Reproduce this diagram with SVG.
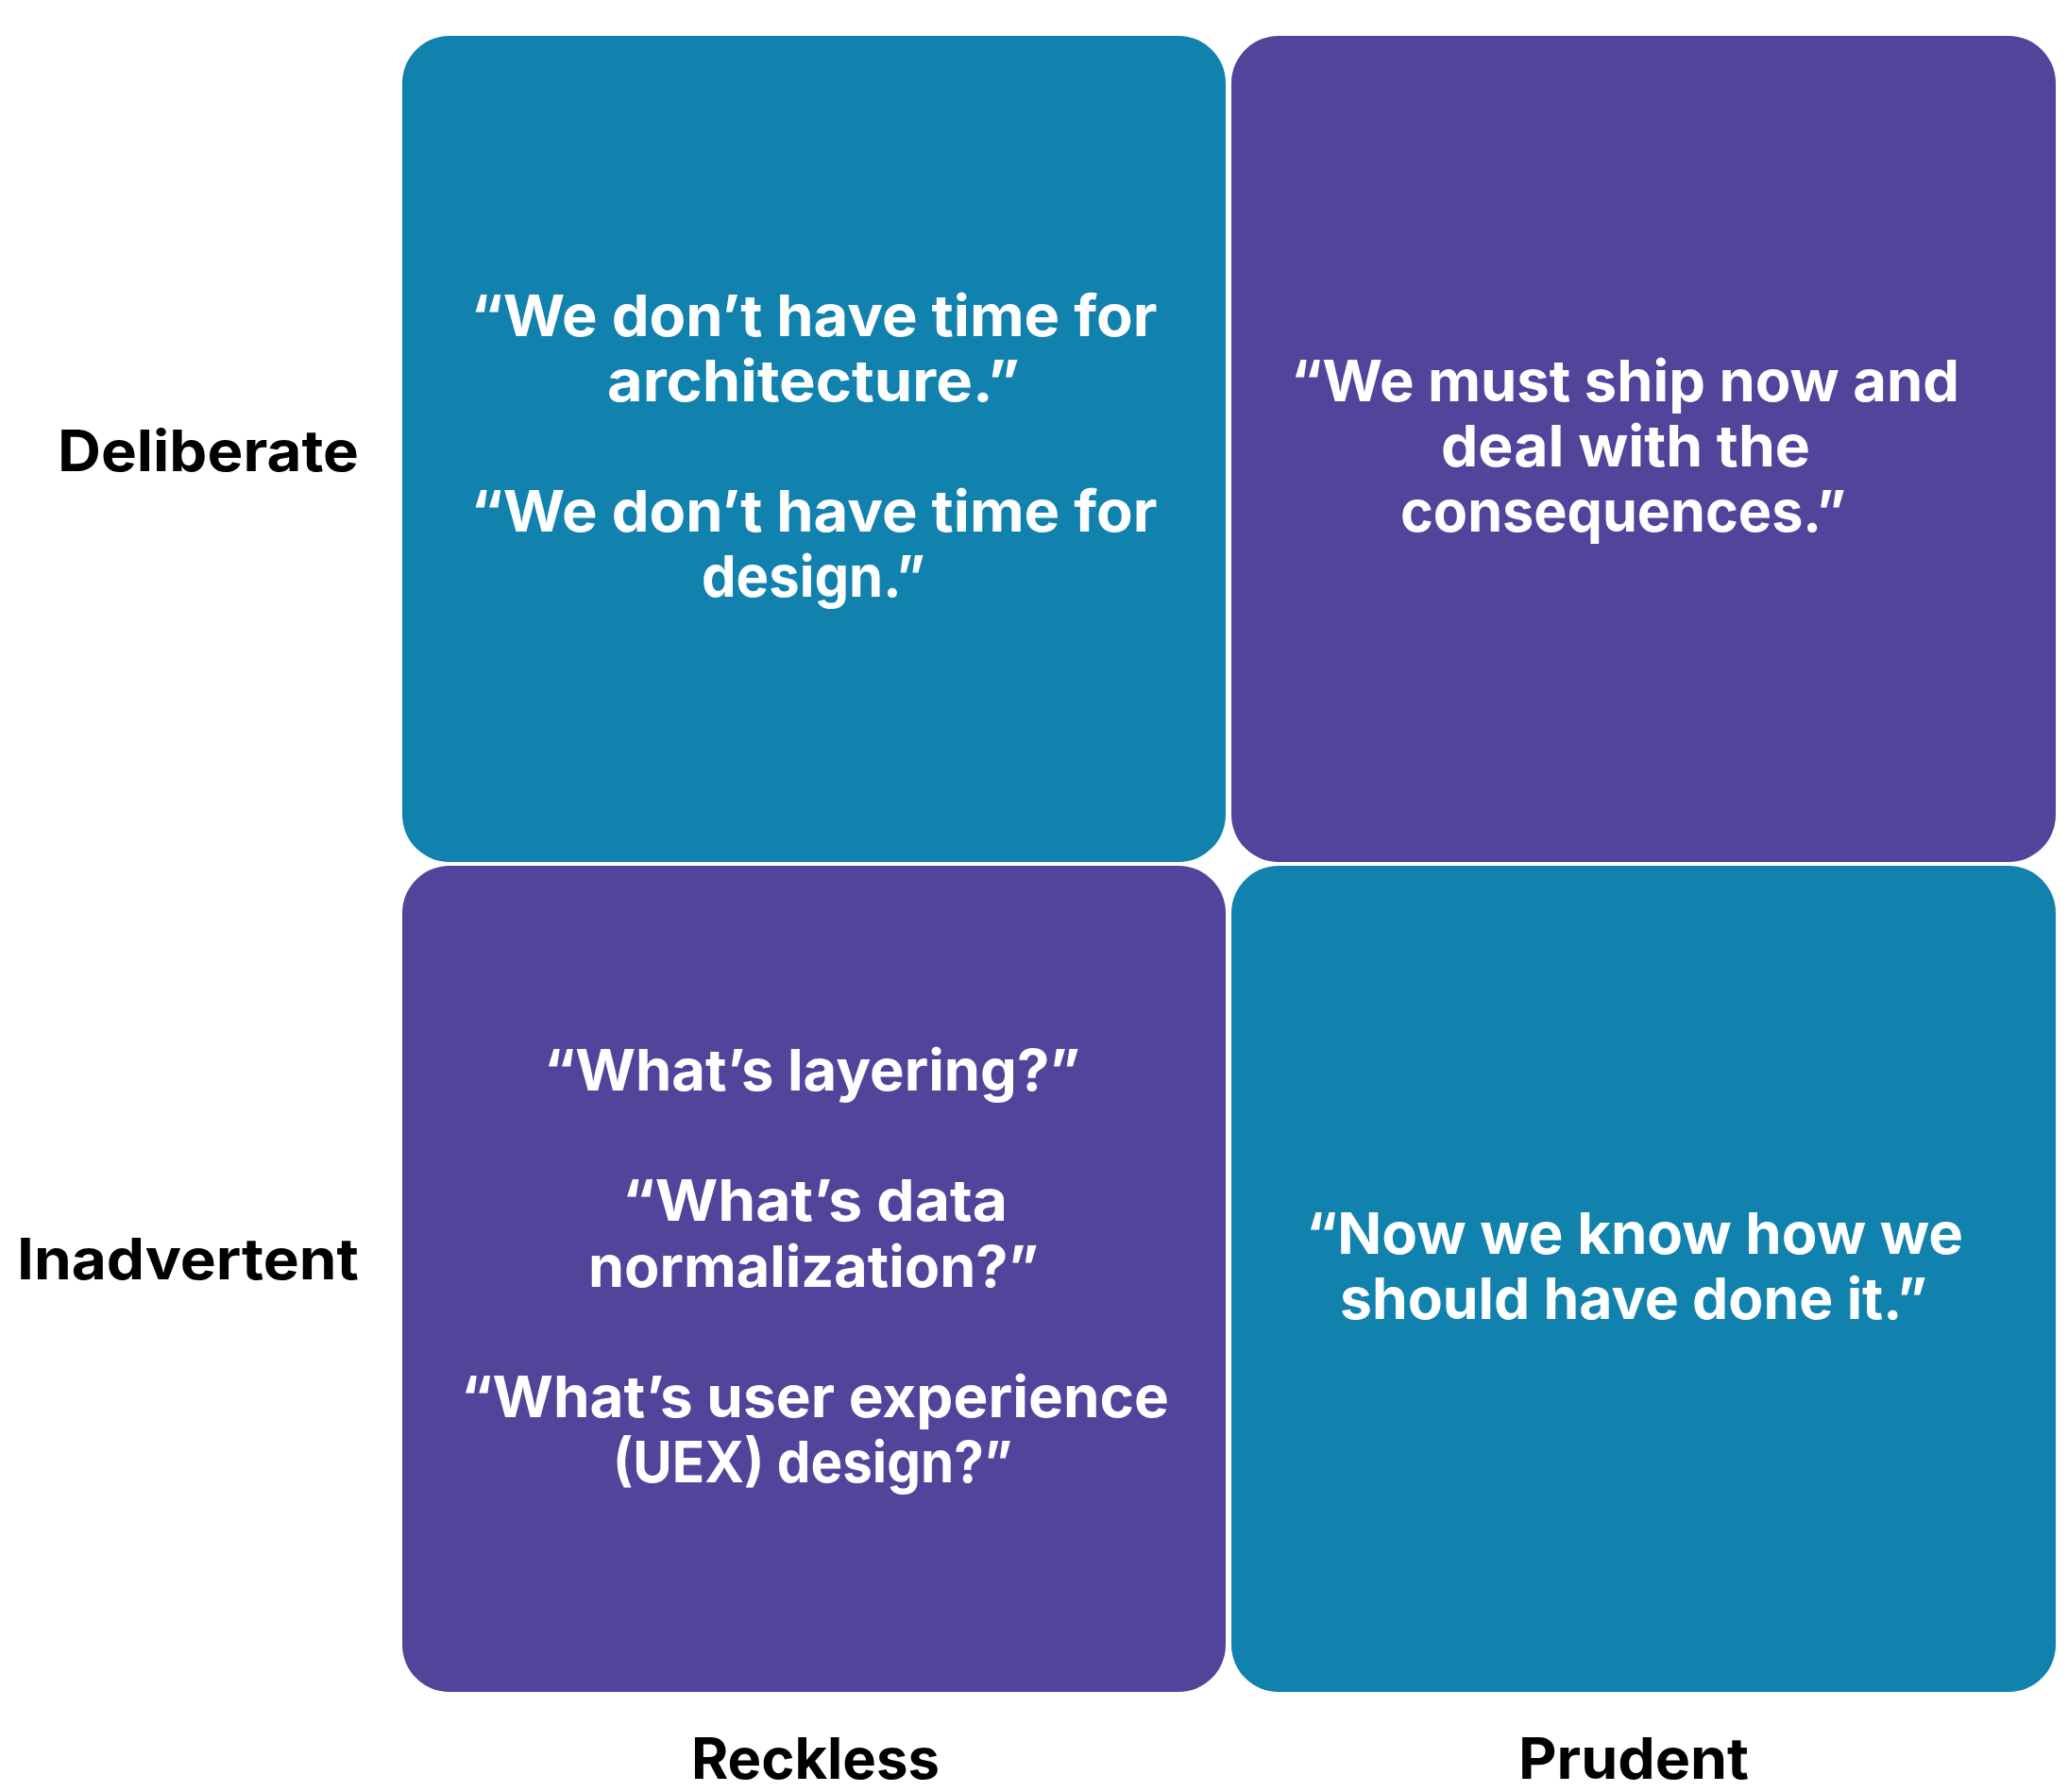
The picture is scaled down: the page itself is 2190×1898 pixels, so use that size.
<svg xmlns="http://www.w3.org/2000/svg" width="2190" height="1898" viewBox="0 0 2190 1898">
<style>
.teal{fill:#1182AD}
.purple{fill:#51449B}
.q{font-family:Inter,"Noto Sans","Liberation Sans",sans-serif;font-weight:700;font-size:61px;fill:#FFFFFF;text-anchor:middle}
.lbl{font-family:Inter,"Noto Sans","Liberation Sans",sans-serif;font-weight:700;font-size:60px;fill:#000000}
</style>
<rect width="2190" height="1898" fill="#FFFFFF"/>
<g id="connectors"></g>
<g id="node-deliberate-reckless">
<rect class="teal" x="426" y="38" width="872" height="875" rx="50" ry="50"/>
<text class="q" x="862" y="356" textLength="727" lengthAdjust="spacingAndGlyphs">“We don’t have time for</text>
<text class="q" x="861.5" y="425" textLength="437" lengthAdjust="spacingAndGlyphs">architecture.”</text>
<text class="q" x="862" y="563" textLength="727" lengthAdjust="spacingAndGlyphs">“We don’t have time for</text>
<text class="q" x="861.5" y="632" textLength="237" lengthAdjust="spacingAndGlyphs">design.”</text>
</g>
<g id="node-deliberate-prudent">
<rect class="purple" x="1304" y="38" width="873" height="875" rx="50" ry="50"/>
<text class="q" x="1721" y="425" textLength="708" lengthAdjust="spacingAndGlyphs">“We must ship now and</text>
<text class="q" x="1721.5" y="494" textLength="391" lengthAdjust="spacingAndGlyphs">deal with the</text>
<text class="q" x="1719" y="563" textLength="472" lengthAdjust="spacingAndGlyphs">consequences.”</text>
</g>
<g id="node-inadvertent-reckless">
<rect class="purple" x="426" y="917" width="872" height="875" rx="50" ry="50"/>
<text class="q" x="860" y="1155" textLength="568" lengthAdjust="spacingAndGlyphs">“What’s layering?”</text>
<text class="q" x="863" y="1293" textLength="408" lengthAdjust="spacingAndGlyphs">“What’s data</text>
<text class="q" x="861.5" y="1363" textLength="477" lengthAdjust="spacingAndGlyphs">normalization?”</text>
<text class="q" x="863" y="1501" textLength="750" lengthAdjust="spacingAndGlyphs">“What’s user experience</text>
<text class="q" x="860.5" y="1570" textLength="423" lengthAdjust="spacingAndGlyphs">(UEX) design?”</text>
</g>
<g id="node-inadvertent-prudent">
<rect class="teal" x="1304" y="917" width="873" height="875" rx="50" ry="50"/>
<text class="q" x="1731" y="1328" textLength="696" lengthAdjust="spacingAndGlyphs">“Now we know how we</text>
<text class="q" x="1730" y="1397" textLength="622" lengthAdjust="spacingAndGlyphs">should have done it.”</text>
</g>
<g id="label-deliberate">
<text class="lbl" x="380" y="499" text-anchor="end" textLength="319" lengthAdjust="spacingAndGlyphs">Deliberate</text>
</g>
<g id="label-inadvertent">
<text class="lbl" x="380" y="1355" text-anchor="end" textLength="362" lengthAdjust="spacingAndGlyphs">Inadvertent</text>
</g>
<g id="label-reckless">
<text class="lbl" x="863.5" y="1884" text-anchor="middle" textLength="263" lengthAdjust="spacingAndGlyphs">Reckless</text>
</g>
<g id="label-prudent">
<text class="lbl" x="1730" y="1884" text-anchor="middle" textLength="244" lengthAdjust="spacingAndGlyphs">Prudent</text>
</g>
</svg>
